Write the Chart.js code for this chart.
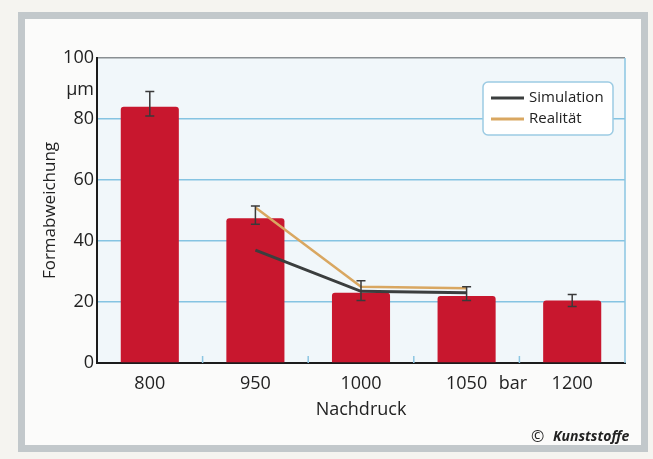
<!DOCTYPE html>
<html>
<head>
<meta charset="utf-8">
<script src="https://cdn.jsdelivr.net/npm/chart.js@4"></script>
<style>
  html, body { margin: 0; padding: 0; background: #f5f4f0; }
  #box { width: 653px; height: 459px; }
</style>
</head>
<body>
<div id="box"><canvas id="canva1" width="653" height="459"></canvas></div>
<script>
// Werte
const druck = ["800", "950", "1000", "1050", "1200"];
const formabweichung = [84, 47.5, 23, 22, 20.5];
const fehlerUnten = [81, 45.5, 20.5, 20.5, 18.5];
const fehlerOben = [89, 51.5, 27, 25, 22.5];
const simulation = [null, 37, 23.5, 23, null];
const realitaet = [null, 51, 25, 24.5, null];
const yTicks = [0, 20, 40, 60, 80, 100];

const schrift = "'Open Sans', 'Noto Sans', sans-serif";

// Hintergrund, Rahmen und Diagrammfläche
const hintergrund = {
    id: "hintergrund",
    beforeDraw(chart) {
        const ctx = chart.ctx;
        const a = chart.chartArea;
        ctx.save();
        ctx.fillStyle = "#f5f4f0";
        ctx.fillRect(0, 0, chart.width, chart.height);
        ctx.fillStyle = "#fbfbfa";
        ctx.fillRect(22, 16, 622, 432);
        ctx.strokeStyle = "#c2c8cb";
        ctx.lineWidth = 7;
        ctx.strokeRect(21.5, 15.5, 623, 433);
        ctx.fillStyle = "#f1f7fa";
        ctx.fillRect(a.left, a.top, a.right - a.left, a.bottom - a.top);
        ctx.restore();
    }
};

// Fehlerbalken, Legende und Zusatztexte
const extras = {
    id: "extras",
    afterDatasetsDraw(chart) {
        const ctx = chart.ctx;
        const x = chart.scales.x;
        const y = chart.scales.y;
        const a = chart.chartArea;
        ctx.save();
        // rechter Rand und kleine Striche an der Achse
        ctx.strokeStyle = "#8cc6e2";
        ctx.lineWidth = 1.5;
        ctx.beginPath();
        ctx.moveTo(a.right, a.top);
        ctx.lineTo(a.right, a.bottom);
        for (let i = 0; i < druck.length - 1; i++) {
            const mx = (x.getPixelForValue(i) + x.getPixelForValue(i + 1)) / 2;
            ctx.moveTo(mx, a.bottom);
            ctx.lineTo(mx, a.bottom - 7);
        }
        ctx.stroke();
        // Fehlerbalken
        ctx.strokeStyle = "#3a3a3a";
        ctx.lineWidth = 1.5;
        for (let i = 0; i < druck.length; i++) {
            const px = x.getPixelForValue(i);
            const y1 = y.getPixelForValue(fehlerOben[i]);
            const y2 = y.getPixelForValue(fehlerUnten[i]);
            ctx.beginPath();
            ctx.moveTo(px, y1); ctx.lineTo(px, y2);
            ctx.moveTo(px - 4.5, y1); ctx.lineTo(px + 4.5, y1);
            ctx.moveTo(px - 4.5, y2); ctx.lineTo(px + 4.5, y2);
            ctx.stroke();
        }
        ctx.restore();
    },
    afterDraw(chart) {
        const ctx = chart.ctx;
        ctx.save();
        ctx.fillStyle = "#222";
        ctx.textBaseline = "middle";
        ctx.font = "18px " + schrift;
        ctx.textAlign = "right";
        ctx.fillText("µm", 94, 90);
        ctx.textAlign = "center";
        ctx.fillText("bar", 513, 384);
        // Legende
        ctx.fillStyle = "#ffffff";
        ctx.strokeStyle = "#9ccbe3";
        ctx.lineWidth = 1.5;
        ctx.beginPath();
        ctx.roundRect(483, 82, 130, 53, 5);
        ctx.fill();
        ctx.stroke();
        const reihen = chart.data.datasets.filter(d => d.type === "line");
        reihen.forEach((d, i) => {
            const ly = 98 + i * 21;
            ctx.strokeStyle = d.borderColor;
            ctx.lineWidth = 3;
            ctx.beginPath();
            ctx.moveTo(491, ly);
            ctx.lineTo(524, ly);
            ctx.stroke();
            ctx.fillStyle = "#222";
            ctx.textAlign = "left";
            ctx.font = "15px " + schrift;
            ctx.fillText(d.label, 529, ly);
        });
        // Quelle
        ctx.fillStyle = "#222";
        ctx.font = "16px " + schrift;
        ctx.textAlign = "left";
        ctx.fillText("©", 531, 437);
        ctx.font = "italic bold 14px " + schrift;
        ctx.fillText("Kunststoffe", 553, 437);
        ctx.restore();
    }
};

window.onload = function(){
    let canva1 = document.getElementById("canva1");
    let grafico1 = new Chart(canva1, {
        data: {
            labels: druck,
            datasets: [{
                type: "line",
                label: "Simulation",
                data: simulation,
                borderColor: "#3b3e3e",
                borderWidth: 3,
                pointRadius: 0,
                order: 0
            }, {
                type: "line",
                label: "Realität",
                data: realitaet,
                borderColor: "#d9a761",
                borderWidth: 2.5,
                pointRadius: 0,
                order: 0
            }, {
                type: "bar",
                label: "Formabweichung",
                data: formabweichung,
                backgroundColor: "#c8172e",
                borderRadius: { topLeft: 3, topRight: 3 },
                borderSkipped: "bottom",
                barPercentage: 0.55,
                categoryPercentage: 1,
                order: 1
            }]
        },
        options: {
            responsive: false,
            animation: false,
            layout: { padding: { top: 58, right: 28, left: 0, bottom: 0 } },
            plugins: {
                legend: { display: false },
                tooltip: { enabled: false }
            },
            scales: {
                x: {
                    grid: { display: false },
                    border: { color: "#1c1c1c", width: 2 },
                    ticks: { color: "#222", padding: 2, font: { family: schrift, size: 18 } },
                    title: {
                        display: true,
                        text: "Nachdruck",
                        color: "#222",
                        font: { family: schrift, size: 18 },
                        padding: { bottom: 38 }
                    },
                    afterFit(scale) { scale.height = 96; }
                },
                y: {
                    min: 0,
                    max: 100,
                    afterBuildTicks(scale) { scale.ticks = yTicks.map(v => ({ value: v })); },
                    grid: {
                        drawTicks: false,
                        lineWidth: 1.5,
                        color: ctx => ctx.tick.value === 100 ? "#8a8f92" : "#86c4e2"
                    },
                    border: { color: "#1c1c1c", width: 2 },
                    ticks: { color: "#222", padding: 3, font: { family: schrift, size: 18 } },
                    title: {
                        display: true,
                        text: "Formabweichung",
                        color: "#222",
                        font: { family: schrift, size: 17 },
                        padding: { top: 40 }
                    },
                    afterFit(scale) { scale.width = 97; }
                }
            }
        },
        plugins: [hintergrund, extras]
    });
}
</script>
</body>
</html>
